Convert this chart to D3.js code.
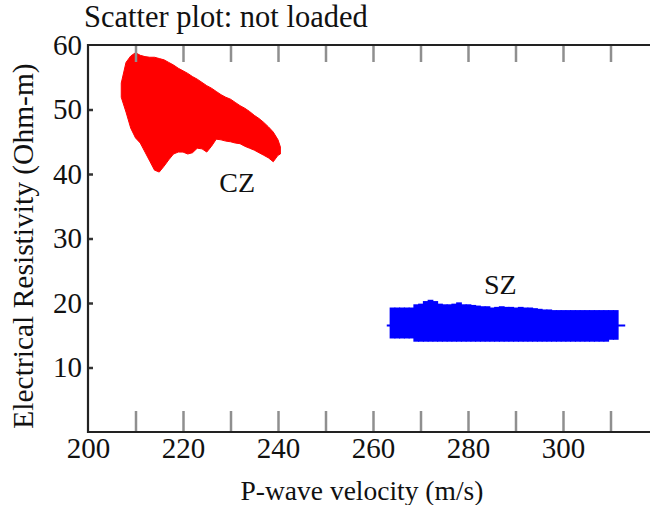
<!DOCTYPE html>
<html>
<head>
<meta charset="utf-8">
<script src="https://cdn.jsdelivr.net/npm/d3@7"></script>
<style>
  html, body { margin: 0; padding: 0; background: #fff; }
  svg { display: block; }
  text { font-family: "Liberation Serif", "Times New Roman", serif; fill: #111; }
</style>
</head>
<body>
<svg id="chart" width="650" height="505"></svg>
<script>
// CZ cloud: velocity columns (m/s) with resistivity range (Ohm-m)
const czVelocity = [207, 208, 209, 210, 211, 212, 213, 214, 215, 216, 217, 218, 219, 220, 221, 222, 223, 224,
                    225, 226, 227, 228, 229, 230, 231, 232, 233, 234, 235, 236, 237, 238, 239, 240, 240.5];
const czHigh = [54.1, 57.3, 58.3, 58.8, 58.4, 58.2, 58.1, 58.1, 57.9, 57.7, 57.3, 56.9, 56.4, 56.0, 55.6, 55.1, 54.7, 54.2,
                53.7, 53.3, 52.8, 52.3, 51.9, 51.6, 51.1, 50.6, 50.2, 49.7, 49.1, 48.6, 48.0, 47.3, 46.5, 45.3, 44.2];
const czLow  = [51.9, 49.6, 47.1, 45.6, 44.8, 43.4, 42.0, 40.6, 40.3, 41.2, 42.2, 43.1, 43.4, 43.4, 43.1, 43.3, 44.0, 43.9,
                43.4, 44.3, 45.4, 45.3, 45.1, 45.0, 44.8, 44.7, 44.3, 44.0, 43.7, 43.3, 42.9, 42.5, 41.9, 42.9, 43.1];

// SZ cloud: velocity columns (m/s) with resistivity range (Ohm-m)
const szVelocity = [264, 265, 266, 267, 268, 269, 270, 271, 272, 273, 274, 275, 276, 277, 278, 279, 280, 281, 282, 283,
                    284, 285, 286, 287, 288, 289, 290, 291, 292, 293, 294, 295, 296, 297, 298, 299, 300, 301, 302, 303,
                    304, 305, 306, 307, 308, 309, 310, 311];
const szHigh = [19.3, 19.3, 19.3, 19.3, 19.3, 19.8, 19.9, 20.3, 20.5, 20.3, 19.9, 19.8, 19.8, 19.9, 20.1, 19.8, 19.8, 19.7, 19.6, 19.5,
                19.5, 19.3, 19.4, 19.5, 19.4, 19.4, 19.3, 19.4, 19.3, 19.3, 19.2, 19.1, 19.0, 19.0, 18.9, 18.9, 18.9, 18.9, 18.9, 18.9,
                18.9, 18.9, 18.9, 18.9, 18.9, 18.9, 18.9, 18.9];
const szLow  = [14.5, 14.5, 14.5, 14.5, 14.5, 14.0, 14.0, 14.0, 14.0, 14.0, 14.0, 14.0, 14.0, 14.0, 14.0, 14.0, 14.0, 14.0, 14.0, 14.0,
                14.0, 14.0, 14.0, 14.0, 14.0, 14.0, 14.0, 14.0, 14.0, 14.0, 14.0, 14.0, 14.0, 14.0, 14.0, 14.0, 14.0, 14.0, 14.0, 14.0,
                14.0, 14.0, 14.0, 14.0, 14.0, 14.0, 14.3, 14.3];
// SZ horizontal spread line
const szSpan = [262.9, 313.1];
const szMid = 16.5;

// Cluster labels (placed in data units)
const clusterNames = ["CZ", "SZ"];
const clusterLabelX = [231.4, 286.8];
const clusterLabelY = [38.7, 22.8];

// Axis ticks
const xTickLabels = [200, 220, 240, 260, 280, 300];
const xMinorTicks = [210, 220, 230, 240, 250, 260, 270, 280, 290, 300, 310];
const yTickLabels = [10, 20, 30, 40, 50, 60];
const yTicks = [10, 20, 30, 40, 50];

const svg = d3.select("#chart");
const x = d3.scaleLinear().domain([200, 320]).range([88, 658]);
const y = d3.scaleLinear().domain([0, 60]).range([432, 45]);

function columns(vs, hi, lo) {
  return vs.map((v, i) => ({ v, hi: hi[i], lo: lo[i] }));
}

// CZ: continuous envelope through the column ranges
const czArea = d3.area()
  .x(d => x(d.v))
  .y0(d => y(d.lo))
  .y1(d => y(d.hi))
  .curve(d3.curveLinear);
svg.append("path")
  .datum(columns(czVelocity, czHigh, czLow))
  .attr("d", czArea)
  .attr("fill", "#ff0000")
  .attr("stroke", "#ff0000")
  .attr("stroke-width", 1);

// SZ: one bar per velocity column
svg.append("g").selectAll("rect").data(columns(szVelocity, szHigh, szLow)).join("rect")
  .attr("x", d => x(d.v - 0.5))
  .attr("width", d => x(d.v + 0.5) - x(d.v - 0.5) + 1)
  .attr("y", d => y(d.hi))
  .attr("height", d => y(d.lo) - y(d.hi))
  .attr("fill", "#0000ff");

svg.append("line")
  .attr("x1", x(szSpan[0])).attr("x2", x(szSpan[1]))
  .attr("y1", y(szMid)).attr("y2", y(szMid))
  .attr("stroke", "#0000ff").attr("stroke-width", 2);

// Grey inner ticks on the bottom and top edges
const bottomTicks = d3.axisBottom(x).tickValues(xMinorTicks).tickSize(-21).tickFormat("");
const gb = svg.append("g").attr("transform", "translate(0,432)").call(bottomTicks);
gb.select(".domain").remove();
gb.selectAll("text").remove();
gb.selectAll(".tick line").attr("stroke", "#8f8f8f").attr("stroke-width", 2.5);

const topTicks = d3.axisTop(x).tickValues(xMinorTicks).tickSize(-17).tickFormat("");
const gt = svg.append("g").attr("transform", "translate(0,45)").call(topTicks);
gt.select(".domain").remove();
gt.selectAll("text").remove();
gt.selectAll(".tick line").attr("stroke", "#8f8f8f").attr("stroke-width", 2.5);

// Left ticks
const leftTicks = d3.axisLeft(y).tickValues(yTicks).tickSize(-5).tickFormat("");
const gl = svg.append("g").attr("transform", "translate(88,0)").call(leftTicks);
gl.select(".domain").remove();
gl.selectAll("text").remove();
gl.selectAll(".tick line").attr("stroke", "#333").attr("stroke-width", 2.5);

// Frame lines
svg.append("path")
  .attr("d", `M650,${y(60)}H${x(200)}V${y(0)}H650`)
  .attr("fill", "none").attr("stroke", "#222").attr("stroke-width", 2.2);

// Tick labels
const xl = d3.axisBottom(x).tickValues(xTickLabels).tickSize(0).tickPadding(5);
const gxl = svg.append("g").attr("transform", "translate(0,432)").call(xl);
gxl.select(".domain").remove();
gxl.attr("font-family", null).attr("font-size", null);
gxl.selectAll("text").style("font-family", "'Liberation Serif', serif").style("font-size", "29px").attr("fill", "#111");

const yl = d3.axisLeft(y).tickValues(yTickLabels).tickSize(0).tickPadding(6);
const gyl = svg.append("g").attr("transform", "translate(88,0)").call(yl);
gyl.select(".domain").remove();
gyl.attr("font-family", null).attr("font-size", null);
gyl.selectAll("text").style("font-family", "'Liberation Serif', serif").style("font-size", "29px").attr("fill", "#111");

// Cluster labels
svg.append("g").selectAll("text").data(clusterNames).join("text")
  .attr("x", (d, i) => x(clusterLabelX[i]))
  .attr("y", (d, i) => y(clusterLabelY[i]))
  .attr("text-anchor", "middle")
  .attr("dominant-baseline", "central")
  .style("font-size", "28px")
  .text(d => d);

// Title and axis titles
svg.append("text").attr("x", 84).attr("y", 27).style("font-size", "30.5px").text("Scatter plot: not loaded");
svg.append("text").attr("x", 362).attr("y", 500).attr("text-anchor", "middle").style("font-size", "27.5px")
  .text("P-wave velocity (m/s)");
svg.append("text").attr("transform", "translate(33,246) rotate(-90)").attr("text-anchor", "middle").style("font-size", "29.5px")
  .text("Electrical Resistivity (Ohm-m)");
</script>
</body>
</html>
